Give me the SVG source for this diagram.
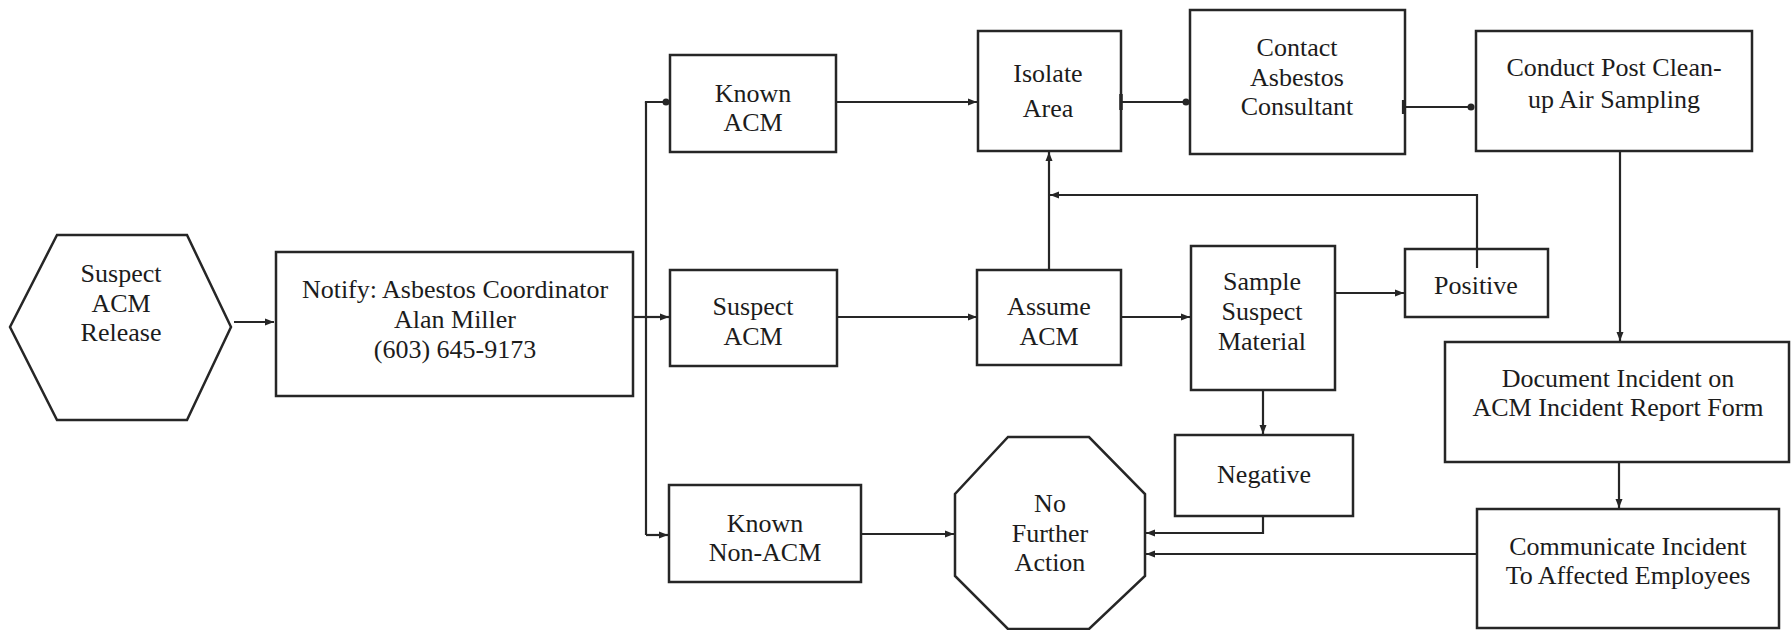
<svg xmlns="http://www.w3.org/2000/svg" width="1791" height="630" viewBox="0 0 1791 630">
<defs>
<style>
.box{fill:#fff;stroke:#262626;stroke-width:2.5}
.ln{fill:none;stroke:#262626;stroke-width:2.2}
.t{font-family:"Liberation Serif","Times New Roman",serif;font-size:26px;fill:#1c1c1c;text-anchor:middle}
</style>
<marker id="arr" markerUnits="userSpaceOnUse" markerWidth="10" markerHeight="10" refX="9" refY="4" orient="auto">
<path d="M0,0.5 L9,4 L0,7.5 z" fill="#262626"/>
</marker>
<marker id="dot" markerUnits="userSpaceOnUse" markerWidth="10" markerHeight="10" refX="5" refY="5" orient="auto">
<circle cx="5" cy="5" r="3.5" fill="#262626"/>
</marker>
</defs>
<rect width="1791" height="630" fill="#fff"/>

<g id="n-suspect-release">
<polygon class="box" points="57,235 187,235 231,327 187,420 57,420 10,327"/>
<text class="t" x="121" y="282">Suspect</text>
<text class="t" x="121" y="312">ACM</text>
<text class="t" x="121" y="341">Release</text>
</g>

<g id="n-notify">
<rect class="box" x="276" y="252" width="357" height="144"/>
<text class="t" x="455" y="298">Notify: Asbestos Coordinator</text>
<text class="t" x="455" y="328">Alan Miller</text>
<text class="t" x="455" y="358">(603) 645-9173</text>
</g>

<g id="n-known-acm">
<rect class="box" x="670" y="55" width="166" height="97"/>
<text class="t" x="753" y="102">Known</text>
<text class="t" x="753" y="131">ACM</text>
</g>

<g id="n-suspect-acm">
<rect class="box" x="670" y="270" width="167" height="96"/>
<text class="t" x="753" y="315">Suspect</text>
<text class="t" x="753" y="345">ACM</text>
</g>

<g id="n-known-non-acm">
<rect class="box" x="669" y="485" width="192" height="97"/>
<text class="t" x="765" y="532">Known</text>
<text class="t" x="765" y="561">Non-ACM</text>
</g>

<g id="n-isolate">
<rect class="box" x="978" y="31" width="143" height="120"/>
<text class="t" x="1048" y="82">Isolate</text>
<text class="t" x="1048" y="117">Area</text>
</g>

<g id="n-contact">
<rect class="box" x="1190" y="10" width="215" height="144"/>
<text class="t" x="1297" y="56">Contact</text>
<text class="t" x="1297" y="86">Asbestos</text>
<text class="t" x="1297" y="115">Consultant</text>
</g>

<g id="n-conduct">
<rect class="box" x="1476" y="31" width="276" height="120"/>
<text class="t" x="1614" y="76">Conduct Post Clean-</text>
<text class="t" x="1614" y="108">up Air Sampling</text>
</g>

<g id="n-assume">
<rect class="box" x="977" y="270" width="144" height="95"/>
<text class="t" x="1049" y="315">Assume</text>
<text class="t" x="1049" y="345">ACM</text>
</g>

<g id="n-sample">
<rect class="box" x="1191" y="246" width="144" height="144"/>
<text class="t" x="1262" y="290">Sample</text>
<text class="t" x="1262" y="320">Suspect</text>
<text class="t" x="1262" y="350">Material</text>
</g>

<g id="n-positive">
<rect class="box" x="1405" y="249" width="143" height="68"/>
<text class="t" x="1476" y="294">Positive</text>
</g>

<g id="n-negative">
<rect class="box" x="1175" y="435" width="178" height="81"/>
<text class="t" x="1264" y="483">Negative</text>
</g>

<g id="n-no-further">
<polygon class="box" points="1008,437 1089,437 1145,494 1145,576 1089,629 1008,629 955,576 955,494"/>
<text class="t" x="1050" y="512">No</text>
<text class="t" x="1050" y="542">Further</text>
<text class="t" x="1050" y="571">Action</text>
</g>

<g id="n-document">
<rect class="box" x="1445" y="342" width="344" height="120"/>
<text class="t" x="1618" y="387">Document Incident on</text>
<text class="t" x="1618" y="416">ACM Incident Report Form</text>
</g>

<g id="n-communicate">
<rect class="box" x="1477" y="509" width="302" height="119"/>
<text class="t" x="1628" y="555">Communicate Incident</text>
<text class="t" x="1628" y="584">To Affected Employees</text>
</g>

<g id="connectors">
<line class="ln" x1="234" y1="322" x2="274" y2="322" marker-end="url(#arr)"/>
<polyline class="ln" points="633,317 646,317"/>
<line class="ln" x1="646" y1="102" x2="646" y2="535"/>
<polyline class="ln" points="646,103 646,102 666,102" marker-end="url(#dot)"/>
<line class="ln" x1="646" y1="317" x2="669" y2="317" marker-end="url(#arr)"/>
<line class="ln" x1="646" y1="535" x2="668" y2="535" marker-end="url(#arr)"/>
<line class="ln" x1="836" y1="102" x2="977" y2="102" marker-end="url(#arr)"/>
<line class="ln" x1="1121" y1="102" x2="1186" y2="102" marker-end="url(#dot)"/>
<line class="ln" x1="1121" y1="94" x2="1121" y2="110" style="stroke-width:3.5"/>
<line class="ln" x1="1403" y1="107" x2="1471" y2="107" marker-end="url(#dot)"/>
<line class="ln" x1="1403" y1="100" x2="1403" y2="114"/>
<line class="ln" x1="1620" y1="151" x2="1620" y2="341" marker-end="url(#arr)"/>
<line class="ln" x1="1619" y1="462" x2="1619" y2="508" marker-end="url(#arr)"/>
<line class="ln" x1="1477" y1="554" x2="1146" y2="554" marker-end="url(#arr)"/>
<line class="ln" x1="837" y1="317" x2="977" y2="317" marker-end="url(#arr)"/>
<line class="ln" x1="1049" y1="270" x2="1049" y2="152" marker-end="url(#arr)"/>
<line class="ln" x1="1121" y1="317" x2="1190" y2="317" marker-end="url(#arr)"/>
<line class="ln" x1="1335" y1="293" x2="1404" y2="293" marker-end="url(#arr)"/>
<polyline class="ln" points="1477,268 1477,195 1050,195" marker-end="url(#arr)"/>
<line class="ln" x1="1263" y1="390" x2="1263" y2="434" marker-end="url(#arr)"/>
<polyline class="ln" points="1263,516 1263,533 1146,533" marker-end="url(#arr)"/>
<line class="ln" x1="861" y1="534" x2="954" y2="534" marker-end="url(#arr)"/>
</g>
</svg>
